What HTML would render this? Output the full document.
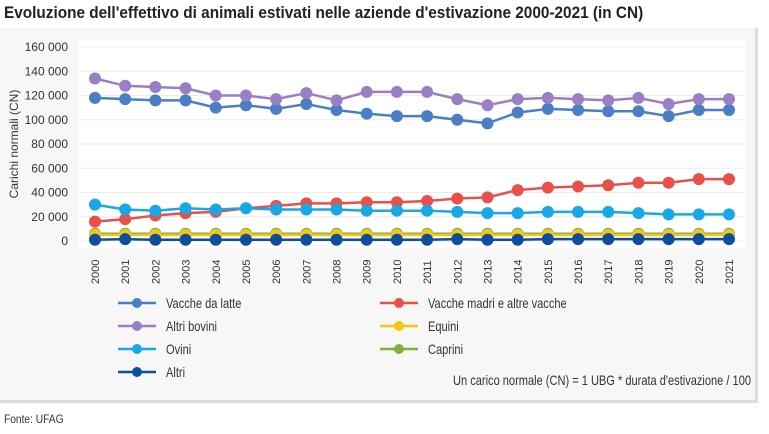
<!DOCTYPE html>
<html><head><meta charset="utf-8"><style>
body{margin:0;width:769px;height:434px;background:#fff;font-family:"Liberation Sans",sans-serif;overflow:hidden;position:relative}
#title{position:absolute;left:4px;top:4px;font-size:16.5px;font-weight:bold;color:#222;white-space:nowrap;transform:scaleX(0.93);transform-origin:0 0}
#panel{position:absolute;left:0;top:28px;width:755px;height:372px;background:#f7f7f7;border-right:3px solid #ddd;border-bottom:3px solid #ddd}
#src{position:absolute;left:4px;top:412px;font-size:12px;color:#333;transform:scaleX(0.85);transform-origin:0 0}
svg text{font-family:"Liberation Sans",sans-serif}
</style></head><body>
<div id="title">Evoluzione dell'effettivo di animali estivati nelle aziende d'estivazione 2000-2021 (in CN)</div>
<div id="panel"></div>
<svg id="chart" width="769" height="434" style="position:absolute;left:0;top:0"></svg>
<div id="src">Fonte: UFAG</div>
<script>
const years=[2000,2001,2002,2003,2004,2005,2006,2007,2008,2009,2010,2011,2012,2013,2014,2015,2016,2017,2018,2019,2020,2021];
const yTicks=[0,20000,40000,60000,80000,100000,120000,140000,160000];
const vaccheLatte=[118,117,116,116,110,112,109,113,108,105,103,103,100,97,106,109,108,107,107,103,108,108];
const altriBovini=[134,128,127,126,120,120,117,122,116,123,123,123,117,112,117,118,117,116,118,113,117,117];
const vaccheMadri=[16,18,21,23,24,27,29,31,31,32,32,33,35,36,42,44,45,46,48,48,51,51];
const ovini=[30,26,25,27,26,27,26,26,26,25,25,25,24,23,23,24,24,24,23,22,22,22];
const caprini=[6,6,6,6,6,6,6,6,6,6,6,6,6,6,6,6,6,6,6,6,6,6];
const equini=[5,5,5,5,5,5,5,5,5,5,5,5,5,5,5,5,5,5,5,5,5,5];
const altri=[1,1.5,1,1,1,1,1,1,1,1,1,1,1.5,1,1,1.5,1.5,1.5,1.5,1.5,1.5,1.5];
const seriesNames=["Vacche da latte","Vacche madri e altre vacche","Altri bovini","Equini","Ovini","Caprini","Altri"];
const NS="http://www.w3.org/2000/svg",svg=document.getElementById('chart');
const x=i=>95+i*(729-95)/(years.length-1);
const y=v=>241-v*(194/160000);
function mk(t,a,p){const e=document.createElementNS(NS,t);for(const k in a)e.setAttribute(k,a[k]);(p||svg).appendChild(e);return e;}
const plot=mk('rect',{x:78,y:40,width:668,height:208,fill:'#fff'});


yTicks.forEach(t=>{
 const g=mk('line',{x1:80,x2:745,y1:y(t),y2:y(t),stroke:'#ececec','stroke-width':1});
 
 
 const tx=mk('text',{x:68,y:y(t)+4,'text-anchor':'end','font-size':12,fill:'#333'});
 tx.textContent=t.toLocaleString('en-US').replace(/,/g,' ');
 
 
});
const yt=mk('text',{x:0,y:0,transform:'translate(18,144) rotate(-90)','text-anchor':'middle','font-size':12,fill:'#333'});
yt.textContent='Carichi normali (CN)';


years.forEach((yr,i)=>{
 const tx=mk('text',{transform:`translate(${x(i)+4},${284}) rotate(-90)`,'font-size':11,fill:'#333'});
 tx.textContent=yr;
 
 
});
const defs=[
 [vaccheLatte,'#4a7fc6','vacche-da-latte'],
 [altriBovini,'#9b7fc4','altri-bovini'],
 [vaccheMadri,'#e8504a','vacche-madri'],
 [ovini,'#1aa7e6','ovini'],
 [caprini,'#7fb042','caprini'],
 [equini,'#f5c518','equini'],
 [altri,'#0f4e9e','altri']];
defs.forEach(([d,c,n])=>{
 const g=mk('g',{});
 
 
 mk('polyline',{points:d.map((v,i)=>x(i)+','+y(v*1000)).join(' '),fill:'none',stroke:c,'stroke-width':2.5},g);
 d.forEach((v,i)=>{const p=mk('circle',{cx:x(i),cy:y(v*1000),r:6,fill:c},g);
  
  });
});
const leg=[['Vacche da latte','#4a7fc6',118,303],['Vacche madri e altre vacche','#e8504a',380,303],['Altri bovini','#9b7fc4',118,326],['Equini','#f5c518',380,326],['Ovini','#1aa7e6',118,349],['Caprini','#7fb042',380,349],['Altri','#0f4e9e',118,372]];
leg.forEach(([t,c,X,ly])=>{
 const g=mk('g',{});
 
 
 mk('line',{x1:X,x2:X+38,y1:ly,y2:ly,stroke:c,'stroke-width':2.5},g);
 mk('circle',{cx:X+19,cy:ly,r:5,fill:c},g);
 const tx=mk('text',{x:0,y:0,transform:`translate(${X+48},${ly+5}) scale(0.82,1)`,'font-size':13.5,fill:'#333'},g);tx.textContent=t;
});
const note=mk('text',{x:0,y:0,transform:'translate(751,385) scale(0.82,1)','text-anchor':'end','font-size':13.5,fill:'#333'});
note.textContent="Un carico normale (CN) = 1 UBG * durata d'estivazione / 100";


</script>
</body></html>
